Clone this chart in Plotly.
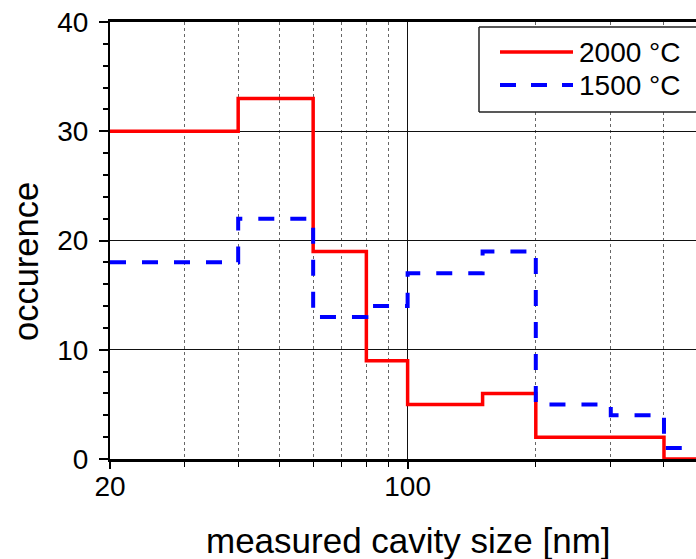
import plotly.graph_objects as go
import math

# ---- data ----
bin_edges = [20, 40, 60, 80, 100, 150, 200, 300, 400, 500]
occ_2000 = [30, 33, 19, 9, 5, 6, 2, 2, 0, 0]
occ_1500 = [18, 22, 13, 14, 17, 19, 5, 4, 1, 1]
series_names = ["2000 °C", "1500 °C"]
x_major_ticks = [20, 100]
x_major_labels = ["20", "100"]
x_minor_ticks = [30, 40, 50, 60, 70, 80, 90, 200, 300, 400]
x_title = "measured cavity size [nm]"
y_title = "occurence"

# ---- layout constants (page pixels) ----
W, H = 696, 559
PLOT_L, PLOT_T, PLOT_B = 110, 22, 459
ML, MT, MR = PLOT_L, PLOT_T, 0
MB = H - PLOT_B
PW, PH = W - PLOT_L, PLOT_B - PLOT_T
PX_PER_DECADE = 425.8
x_lo = math.log10(20)
x_hi = x_lo + PW / PX_PER_DECADE
FONT = "Liberation Sans, Arial, sans-serif"
TICK_SIZE = 28
LEG_SIZE = 28


def fx(px):
    return (px - PLOT_L) / PW


def fy(py):
    return (PLOT_B - py) / PH


fig = go.Figure()
fig.add_trace(go.Scatter(
    x=bin_edges, y=occ_2000, name=series_names[0], mode="lines",
    line=dict(color="#ff0000", width=3.5, shape="hv"), showlegend=False,
))
fig.add_trace(go.Scatter(
    x=bin_edges, y=occ_1500, name=series_names[1], mode="lines",
    line=dict(color="#0000ff", width=4, shape="hv", dash="16px,16px"), showlegend=False,
))

fig.update_layout(
    width=W, height=H,
    margin=dict(l=ML, r=MR, t=MT, b=MB, pad=0, autoexpand=False),
    paper_bgcolor="white", plot_bgcolor="white",
    font=dict(family=FONT, color="black", size=TICK_SIZE),
    showlegend=False,
)

fig.update_xaxes(
    type="log", range=[x_lo, x_hi],
    tickmode="array", tickvals=x_major_ticks, ticktext=x_major_labels,
    ticks="outside", ticklen=7, tickwidth=1.5, tickcolor="black",
    tickfont=dict(size=TICK_SIZE, family=FONT, color="black"),
    ticklabeloverflow="allow", ticklabelstandoff=-6,
    showgrid=True, gridcolor="#111111", gridwidth=1,
    showline=True, linecolor="black", linewidth=2.5, mirror=True,
    zeroline=False,
    minor=dict(tickvals=x_minor_ticks, ticks="outside", ticklen=5, tickwidth=1,
               tickcolor="black", showgrid=True, gridcolor="#666666",
               gridwidth=1, griddash="dot"),
)
fig.update_yaxes(
    range=[0, 40], tickmode="linear", tick0=0, dtick=10,
    ticks="outside", ticklen=9, tickwidth=1.5, tickcolor="black",
    tickfont=dict(size=TICK_SIZE, family=FONT, color="black"),
    ticklabelstandoff=5, ticklabeloverflow="allow",
    showgrid=True, gridcolor="#111111", gridwidth=1,
    showline=True, linecolor="black", linewidth=2, mirror=False,
    zeroline=False,
    minor=dict(dtick=2, ticks="outside", ticklen=5, tickwidth=1.5,
               tickcolor="black", showgrid=False),
)

# ---- axis titles ----
fig.add_annotation(text=x_title, xref="paper", yref="paper",
                   x=fx(408), y=fy(540), xanchor="center", yanchor="middle",
                   showarrow=False, font=dict(size=35, family=FONT, color="black"))
fig.add_annotation(text=y_title, xref="paper", yref="paper",
                   x=fx(26), y=fy(262), xanchor="center", yanchor="middle",
                   textangle=-90, showarrow=False,
                   font=dict(size=34.5, family=FONT, color="black"))

# ---- legend (drawn, box cropped at the right edge like the reference) ----
lg_l, lg_t, lg_b, lg_r = 479, 27, 112, W + 10
shapes = [
    dict(type="rect", xref="paper", yref="paper", x0=fx(lg_l), x1=fx(lg_r),
         y0=fy(lg_b), y1=fy(lg_t), fillcolor="white", line=dict(width=0), layer="above"),
    dict(type="line", xref="paper", yref="paper", x0=fx(lg_l), x1=fx(lg_r),
         y0=fy(lg_t), y1=fy(lg_t), line=dict(color="#222222", width=1.5)),
    dict(type="line", xref="paper", yref="paper", x0=fx(lg_l), x1=fx(lg_r),
         y0=fy(lg_b), y1=fy(lg_b), line=dict(color="#222222", width=1.5)),
    dict(type="line", xref="paper", yref="paper", x0=fx(lg_l), x1=fx(lg_l),
         y0=fy(lg_b), y1=fy(lg_t), line=dict(color="#222222", width=1.5)),
    dict(type="line", xref="paper", yref="paper", x0=fx(500), x1=fx(573),
         y0=fy(52), y1=fy(52), line=dict(color="#ff0000", width=3.5)),
    dict(type="line", xref="paper", yref="paper", x0=fx(500), x1=fx(573),
         y0=fy(85), y1=fy(85), line=dict(color="#0000ff", width=4, dash="16px,15px")),
]
fig.update_layout(shapes=shapes)
for name, ycen in zip(series_names, [52, 85]):
    fig.add_annotation(text=name, xref="paper", yref="paper",
                       x=fx(577), y=fy(ycen), xanchor="left", yanchor="middle",
                       showarrow=False, font=dict(size=LEG_SIZE, family=FONT, color="black"))

# the page body has a default 8px margin; remove it so the 696x559 figure fills the window
fig.write_html(
    "out.html",
    config={"displayModeBar": False},
    post_script="document.body.style.margin='0';"
                "document.documentElement.style.overflow='hidden';",
)
